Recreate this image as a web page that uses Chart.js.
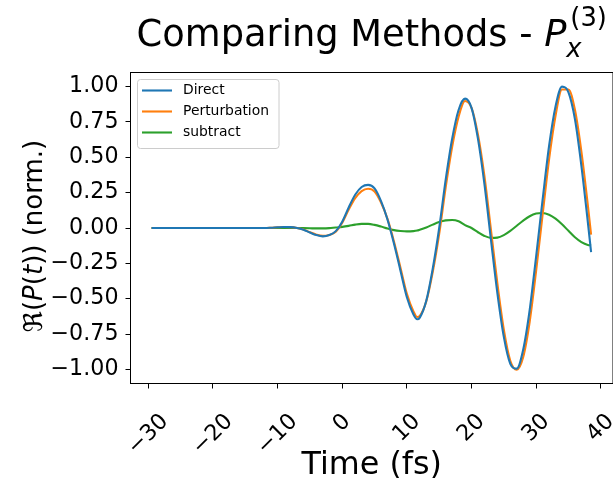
<!DOCTYPE html>
<html lang="en">
<head>
<meta charset="UTF-8">
<title>Comparing Methods</title>
<script src="https://cdn.jsdelivr.net/npm/chart.js"></script>
<style>
  body { margin: 0; background: #fff; }
  canvas { display: block; }
</style>
</head>
<body>
<canvas id="chart" width="613" height="478"></canvas>
<script>
// time axis (fs) and the three traces
const time = [-29.5, -29, -28, -27, -26, -25, -24, -23, -22, -21, -20, -19, -18, -17, -16, -15, -14, -13, -12,
  -11, -10, -9, -8, -7, -6, -5, -4, -3, -2, -1, 0, 1, 2, 3, 4, 5, 6, 7, 8, 9, 10,
  11, 11.6, 12, 13, 14, 15, 16, 17, 18, 19, 20, 21, 22, 23, 24, 25, 26, 27, 28, 29, 30,
  31, 32, 33, 34, 35, 36, 37, 38, 38.5];

const direct = [0, 0, 0, 0, 0, 0, 0, 0, 0, 0, 0, 0, 0, 0, 0, 0, 0, 0, 0,
  0.002, 0.005, 0.007, 0.006, 0.0, -0.012, -0.032, -0.050, -0.059, -0.050, -0.022, 0.045, 0.145, 0.235, 0.290, 0.305, 0.280, 0.190, 0.060, -0.110, -0.300, -0.490,
  -0.610, -0.646, -0.634, -0.515, -0.288, 0.000, 0.340, 0.630, 0.835, 0.915, 0.850, 0.630, 0.310, -0.080, -0.460, -0.770, -0.960, -0.995, -0.860, -0.580, -0.200,
  0.200, 0.580, 0.860, 1.000, 0.960, 0.770, 0.440, 0.040, -0.170];

const perturbation = [0, 0, 0, 0, 0, 0, 0, 0, 0, 0, 0, 0, 0, 0, 0, 0, 0, 0, 0,
  0.002, 0.005, 0.007, 0.006, 0.0, -0.011, -0.030, -0.047, -0.056, -0.049, -0.026, 0.037, 0.130, 0.211, 0.261, 0.278, 0.258, 0.180, 0.064, -0.095, -0.279, -0.466,
  -0.588, -0.630, -0.622, -0.519, -0.312, -0.042, 0.286, 0.573, 0.787, 0.898, 0.850, 0.660, 0.366, -0.010, -0.392, -0.720, -0.940, -1.003, -0.912, -0.663, -0.302,
  0.094, 0.486, 0.794, 0.980, 0.980, 0.836, 0.540, 0.160, -0.047];

const subtract = [0, 0, 0, 0, 0, 0, 0, 0, 0, 0, 0, 0, 0, 0, 0, 0, 0, 0, 0,
  0, 0, 0, 0, 0, -0.001, -0.002, -0.003, -0.003, -0.001, 0.004, 0.008, 0.015, 0.024, 0.029, 0.029, 0.022, 0.010, -0.004, -0.015, -0.021, -0.024,
  -0.022, -0.018, -0.012, 0.004, 0.024, 0.042, 0.054, 0.057, 0.048, 0.020, 0.000, -0.030, -0.056, -0.070, -0.068, -0.050, -0.020, 0.016, 0.052, 0.083, 0.102,
  0.106, 0.094, 0.066, 0.026, -0.020, -0.066, -0.100, -0.120, -0.123];

const xTicks = [-30, -20, -10, 0, 10, 20, 30, 40];
const yTicks = [-1, -0.75, -0.5, -0.25, 0, 0.25, 0.5, 0.75, 1];

const FONT = '"DejaVu Sans", sans-serif';
const TICK_SIZE = 22.2;
const minus = s => s.replace('-', '\u2212');

function xy(vals) {
  return time.map((t, i) => ({ x: t, y: vals[i] }));
}

// draws a run of text pieces with different fonts one after another
function drawRun(ctx, parts, x, y) {
  let cx = x;
  parts.forEach(p => {
    ctx.font = p.font;
    ctx.fillText(p.text, cx, y + (p.dy || 0));
    cx += ctx.measureText(p.text).width;
  });
  return cx;
}
function runWidth(ctx, parts) {
  let w = 0;
  parts.forEach(p => { ctx.font = p.font; w += ctx.measureText(p.text).width; });
  return w;
}

const decorations = {
  id: 'decorations',
  afterDraw(chart) {
    const ctx = chart.ctx;
    const a = chart.chartArea;
    const xs = chart.scales.x;
    ctx.save();
    ctx.fillStyle = '#000';
    ctx.textBaseline = 'alphabetic';

    // frame
    ctx.strokeStyle = '#000';
    ctx.lineWidth = 1;
    ctx.strokeRect(a.left, a.top, a.right - a.left, a.bottom - a.top);

    // rotated x tick labels, centred under each tick (matplotlib ha=center)
    ctx.font = TICK_SIZE + 'px ' + FONT;
    ctx.textAlign = 'center';
    ctx.textBaseline = 'middle';
    const h = 1.164 * TICK_SIZE;
    xTicks.forEach(v => {
      const label = minus(String(v));
      const w = ctx.measureText(label).width;
      const px = xs.getPixelForValue(v);
      const py = 409 + (w + h) / (2 * Math.SQRT2);
      ctx.save();
      ctx.translate(px, py);
      ctx.rotate(-Math.PI / 4);
      ctx.fillText(label, 0, 0);
      ctx.restore();
    });

    // x axis title
    ctx.textBaseline = 'alphabetic';
    ctx.font = '31.8px ' + FONT;
    ctx.fillText('Time (fs)', (a.left + a.right) / 2, 474);

    // y axis title
    ctx.textAlign = 'left';
    const ys = 26;
    const yParts = [
      { text: '\u211C(', font: ys + 'px ' + FONT },
      { text: 'P', font: 'italic ' + ys + 'px ' + FONT },
      { text: '(', font: ys + 'px ' + FONT },
      { text: 't', font: 'italic ' + ys + 'px ' + FONT },
      { text: ')) (norm.)', font: ys + 'px ' + FONT }
    ];
    ctx.save();
    ctx.translate(42, 236);
    ctx.rotate(-Math.PI / 2);
    drawRun(ctx, yParts, -runWidth(ctx, yParts) / 2, 0);
    ctx.restore();

    // title with P_x^(3)
    const ts = 36.8, ss = 25.8;
    const tMain = [
      { text: 'Comparing Methods - ', font: ts + 'px ' + FONT },
      { text: 'P', font: 'italic ' + ts + 'px ' + FONT }
    ];
    const subF = 'italic ' + ss + 'px ' + FONT, supF = ss + 'px ' + FONT;
    ctx.font = subF; const wSub = ctx.measureText('x').width;
    ctx.font = supF; const wSup = ctx.measureText('(3)').width;
    const total = runWidth(ctx, tMain) + Math.max(wSub, wSup + 4);
    const tx = (a.left + a.right) / 2 - total / 2;
    const end = drawRun(ctx, tMain, tx, 46);
    ctx.font = subF; ctx.fillText('x', end, 57);
    ctx.font = supF; ctx.fillText('(3)', end + 4, 26);

    // legend
    const lx = 137.5, ly = 79.5, lw = 141.5, lh = 69;
    ctx.beginPath();
    ctx.roundRect(lx, ly, lw, lh, 3);
    ctx.fillStyle = 'rgba(255,255,255,0.8)';
    ctx.fill();
    ctx.strokeStyle = '#cccccc';
    ctx.stroke();
    ctx.font = '13.9px ' + FONT;
    ctx.textBaseline = 'middle';
    chart.data.datasets.forEach((ds, i) => {
      const y = 90.5 + i * 21;
      ctx.strokeStyle = ds.borderColor;
      ctx.lineWidth = 2.1;
      ctx.beginPath();
      ctx.moveTo(142, y);
      ctx.lineTo(172, y);
      ctx.stroke();
      ctx.fillStyle = '#000';
      ctx.fillText(ds.label, 183, y);
    });
    ctx.restore();
  }
};

const lineStyle = { pointRadius: 0, borderWidth: 2.1, fill: false, cubicInterpolationMode: 'monotone' };

new Chart(document.getElementById('chart').getContext('2d'), {
  type: 'line',
  data: {
    datasets: [
      Object.assign({ label: 'Direct', data: xy(direct), borderColor: '#1f77b4' }, lineStyle),
      Object.assign({ label: 'Perturbation', data: xy(perturbation), borderColor: '#ff7f0e' }, lineStyle),
      Object.assign({ label: 'subtract', data: xy(subtract), borderColor: '#2ca02c' }, lineStyle)
    ]
  },
  options: {
    responsive: false,
    animation: false,
    devicePixelRatio: 1,
    layout: { padding: { left: 0, right: 0, top: 72.5, bottom: 0 } },
    plugins: { legend: { display: false }, title: { display: false }, tooltip: { enabled: false } },
    scales: {
      x: {
        type: 'linear',
        min: -32.76,
        max: 41.89,
        afterBuildTicks: s => { s.ticks = xTicks.map(v => ({ value: v })); },
        afterFit: s => { s.height = 478 - 383.5; },
        ticks: { display: false },
        grid: { drawOnChartArea: false, drawTicks: true, tickLength: 5, color: '#000', lineWidth: 1 },
        border: { display: false }
      },
      y: {
        min: -1.1,
        max: 1.1,
        afterBuildTicks: s => { s.ticks = yTicks.map(v => ({ value: v })); },
        afterFit: s => { s.width = 130.5; },
        ticks: {
          font: { family: FONT, size: TICK_SIZE },
          color: '#000',
          padding: 7,
          callback: v => minus(v.toFixed(2))
        },
        grid: { drawOnChartArea: false, drawTicks: true, tickLength: 5, color: '#000', lineWidth: 1 },
        border: { display: false }
      }
    }
  },
  plugins: [decorations]
});
</script>
</body>
</html>
